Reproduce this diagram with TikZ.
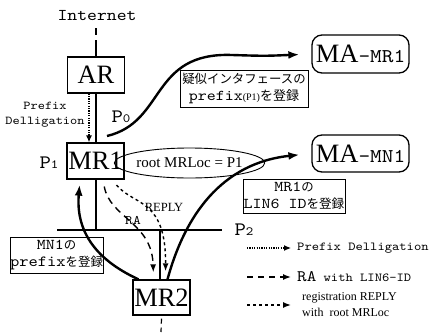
\documentclass[tikz,border=0pt]{standalone}
\usepackage{fontspec}
\setmainfont{Liberation Serif}
\newfontfamily\mymono{lmmono10-regular.otf}[FakeStretch=1.14]
\newfontfamily\myjp{Noto Sans CJK JP}
\usetikzlibrary{arrows.meta,shapes.geometric}
\newcommand\ttsz[2][17]{\mymono\fontsize{#2}{#1}\selectfont}
\newcommand\jpsz[2][17]{\myjp\fontsize{#2}{#1}\selectfont}
\newcommand\rmsz[2][17]{\rmfamily\fontsize{#2}{#1}\selectfont}
\begin{document}
\begin{tikzpicture}[x=1pt,y=-1pt,
  box/.style={draw, line width=1.3pt, inner sep=0pt, minimum width=57pt, minimum height=36pt, font=\rmsz{26.5}},
  mabox/.style={draw, line width=1.3pt, rounded corners=10pt, inner sep=0pt, minimum width=97pt, minimum height=38pt},
  note/.style={draw, line width=0.8pt, inner sep=0pt, align=center},
  bigarrow/.style={line width=2.4pt, -{Latex[length=11pt,width=8pt]}},
  plain/.style={line width=1.2pt},
  pdline/.style={line width=1.3pt, dash pattern=on 1.2pt off 1.2pt, -{Latex[length=7pt,width=6pt]}},
  raline/.style={line width=1.4pt, dash pattern=on 7pt off 5pt, -{Latex[length=8pt,width=6pt]}},
  repline/.style={line width=1.4pt, dash pattern=on 3pt off 3pt, -{Latex[length=8pt,width=6pt]}},
  lbl/.style={inner sep=0pt}
]
\useasboundingbox (0,0) rectangle (433,332);

% nodes
\node[lbl, font=\ttsz{16.5}] (internet) at (97,16) {Internet};
\node[box] (ar) at (96,75) {AR};
\node[box] (mr1) at (95.5,161) {MR1};
\node[box, minimum height=35pt] (mr2) at (161.5,297.5) {MR2};
\node[mabox] (mamr1) at (360.5,54) {{\rmsz{26.5}MA}{\ttsz{19.5}-MR1}};
\node[mabox, minimum height=37pt] (mamn1) at (360.5,153.5) {{\rmsz{26.5}MA}{\ttsz{19.5}-MN1}};
\node[note, minimum width=128pt, minimum height=37pt, font=\jpsz{12.4}] (box1) at (244,88.5)
  {疑似インタフェースの\\{\ttsz{15}prefix}{\rmsz{10}(P1)}{\jpsz{13}を登録}};
\node[note, minimum width=102pt, minimum height=34pt, font=\jpsz{12.4}] (box2) at (294,196)
  {{\ttsz{15}MR1}の\\{\ttsz{15}LIN6 ID}{\jpsz{12.6}を登録}};
\node[note, minimum width=93pt, minimum height=36pt, font=\jpsz{12.4}] (box3) at (56.5,255)
  {{\ttsz{15}MN1}の\\{\ttsz{15.5}prefix}を登録};
\node[ellipse, draw, line width=0.9pt, inner sep=0pt, minimum width=115pt, minimum height=30pt, font=\rmsz{15}] (loc) at (189.5,163) {root MRLoc = P1};

\node[lbl, font={\ttsz[15]{12}}, align=center] (pdlab) at (45,115) {Prefix\\Delligation};
\node[lbl, anchor=base] (p0) at (121,122) {{\ttsz{19}P}{\ttsz{12.5}0}};
\node[lbl, anchor=base] (p1) at (49,168) {{\ttsz{19}P}{\ttsz{12.5}1}};
\node[lbl, anchor=base] (p2) at (244,235) {{\ttsz{19}P}{\ttsz{12.5}2}};
\node[lbl, font=\ttsz{13}] (ralab) at (133,221) {RA};
\node[lbl, font=\rmsz{12.5}] (replab) at (164,207) {REPLY};

% backbone lines
\coordinate (ia) at (96,28);
\coordinate (ib) at (96,35);
\coordinate (ic) at (96,40);
\draw[plain] (ia) -- (ib);
\draw[plain] (ic) -- (ar.north -| ic);
\draw[plain] (ar.south -| ic) -- (mr1.north -| ic);
\coordinate (hl1) at (57,230);
\coordinate (hl2) at (222,230);
\coordinate (hj1) at (96,230);
\coordinate (hj2) at (160,230);
\draw[plain] (hl1) -- (hl2);
\draw[plain] (mr1.south -| hj1) -- (hj1);
\draw[plain] (hj2) -- (mr2.north -| hj2);
\coordinate (bot) at (161,332);
\draw[plain, dash pattern=on 5pt off 4pt] ([yshift=-3pt]mr2.south) -- (bot);

% prefix delegation arrow
\draw[pdline] ([xshift=-7pt]ar.south) -- ([xshift=-6.5pt]mr1.north);

% curved arrows
\coordinate (p0s) at (107,136);
\draw[bigarrow, shorten >=12pt] (p0s) .. controls (166,122) and (150,52) .. (232,55)
  .. controls (265,56) .. (mamr1.west);
\draw[bigarrow, shorten >=12pt] ([xshift=6pt]mr2.north) .. controls (185,215) and (222,163) .. (mamn1.west);
\draw[bigarrow, shorten >=5pt] ([xshift=-23pt]mr2.north) .. controls (92,258) and (76,228) .. ([xshift=-15.5pt]mr1.south);
\draw[raline, shorten <=7pt, shorten >=7pt] ([xshift=7.5pt]mr1.south) .. controls (110,218) and (152,222) .. ([xshift=-8pt]mr2.north);
\draw[repline, shorten <=7pt, shorten >=8pt] ([xshift=16.5pt]mr1.south) .. controls (134,206) and (166,198) .. ([xshift=4pt]mr2.north);

% legend
\node[lbl, anchor=west, font=\ttsz{12.2}] (lg1) at (297,248) {Prefix Delligation};
\node[lbl, anchor=west] (lg2) at (297,277) {{\ttsz{16}RA}{\ttsz{12.2} with LIN6-ID}};
\node[lbl, anchor=west, align=left, font={\rmsz[16]{12}}] (lg3) at (302,305) {registration REPLY\\with~ root MRLoc};
\coordinate (la) at (247,248);
\coordinate (lb) at (247,277);
\coordinate (lc) at (247,305);
\draw[pdline, line width=1.1pt, shorten >=6pt] (la) -- (lg1.west |- la);
\draw[raline, shorten >=6pt, dash pattern=on 6pt off 5pt] (lb) -- (lg2.west |- lb);
\draw[repline, shorten >=11pt] (lc) -- (lg3.west |- lc);
\end{tikzpicture}
\end{document}
